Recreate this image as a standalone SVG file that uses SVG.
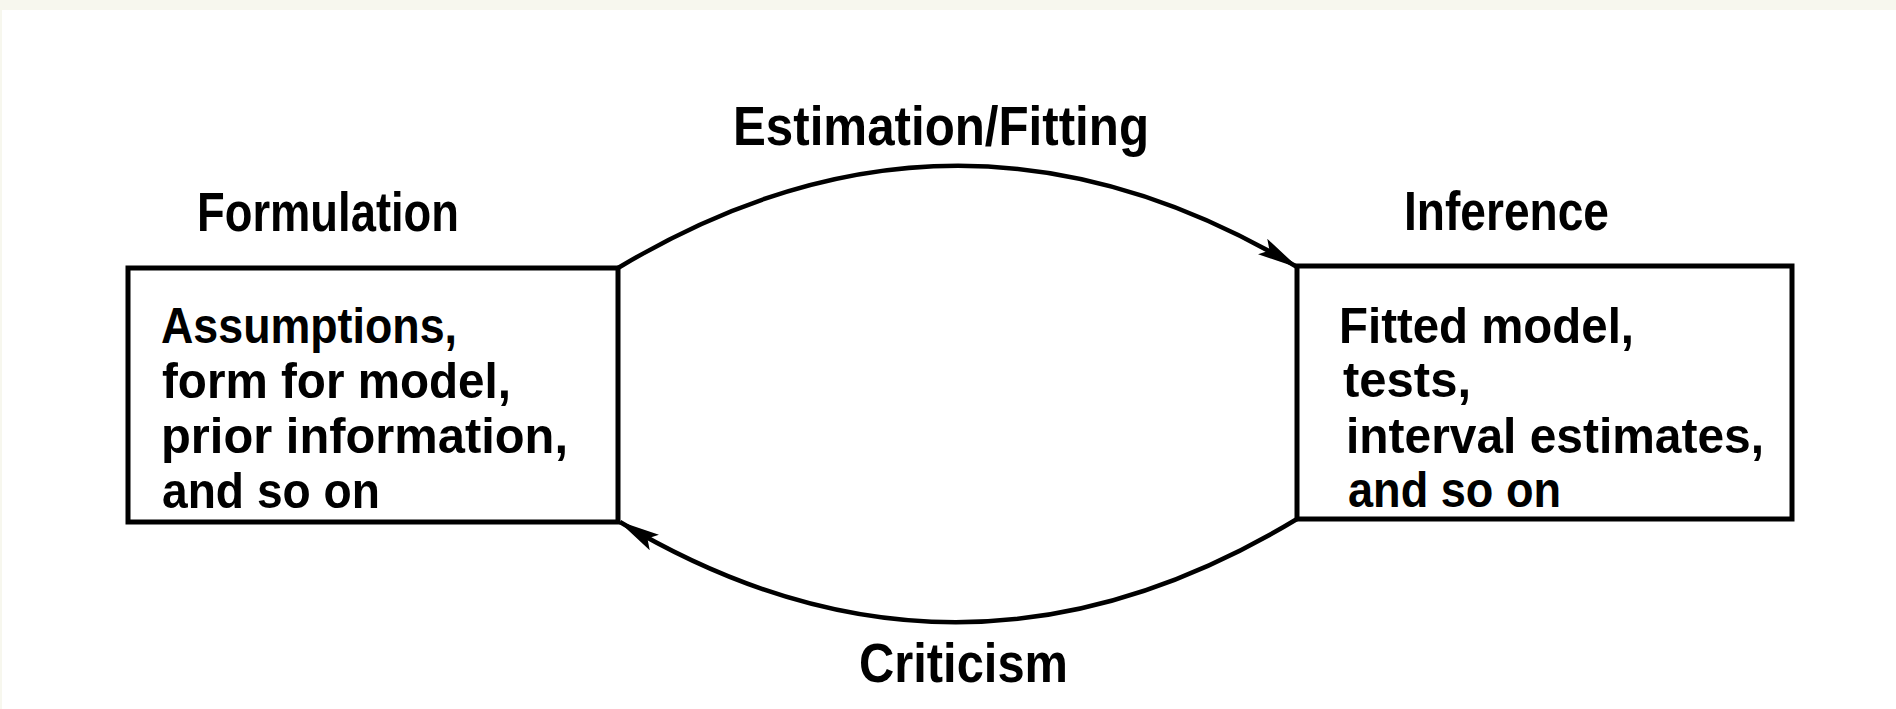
<svg xmlns="http://www.w3.org/2000/svg" width="1896" height="709" viewBox="0 0 1896 709">
  <style>
    .box { fill: #ffffff; stroke: #000000; stroke-width: 5; }
    .edge { fill: none; stroke: #000000; stroke-width: 4.5; }
    .t { font-family: "Liberation Sans", Arial, sans-serif; font-weight: bold; font-size: 56px; fill: #000000; }
    .b { font-family: "Liberation Sans", Arial, sans-serif; font-weight: bold; font-size: 50px; fill: #000000; }
  </style>
  <defs>
    <marker id="arrow" markerUnits="userSpaceOnUse" markerWidth="50" markerHeight="24" viewBox="-44 -12 50 24" refX="0" refY="0" orient="auto">
      <path d="M 2 0 L -40 -9 L -32 0 L -40 9 Z" fill="#000000"/>
    </marker>
  </defs>
  <rect x="0" y="0" width="1896" height="709" fill="#ffffff"/>
  <rect x="0" y="0" width="1896" height="10" fill="#f7f7ee"/>
  <rect x="0" y="0" width="2" height="709" fill="#f7f7ee"/>

  <g id="connectors">
    <g id="edge-estimation">
      <path class="edge" d="M 618 268 Q 957 64 1297 267" marker-end="url(#arrow)"/>
      <text class="t" x="733" y="145" textLength="416" lengthAdjust="spacingAndGlyphs">Estimation/Fitting</text>
    </g>
    <g id="edge-criticism">
      <path class="edge" d="M 1297 519 Q 958 724 620 522" marker-end="url(#arrow)"/>
      <text class="t" x="859" y="682" textLength="209" lengthAdjust="spacingAndGlyphs">Criticism</text>
    </g>
  </g>

  <g id="node-formulation">
    <text class="t" x="197" y="231" textLength="262" lengthAdjust="spacingAndGlyphs">Formulation</text>
    <rect class="box" x="128" y="268" width="490" height="254"/>
    <text class="b" x="161" y="343" textLength="296" lengthAdjust="spacingAndGlyphs">Assumptions,</text>
    <text class="b" x="162" y="398" textLength="349" lengthAdjust="spacingAndGlyphs">form for model,</text>
    <text class="b" x="161" y="453" textLength="407" lengthAdjust="spacingAndGlyphs">prior information,</text>
    <text class="b" x="162" y="508" textLength="218" lengthAdjust="spacingAndGlyphs">and so on</text>
  </g>

  <g id="node-inference">
    <text class="t" x="1404" y="230" textLength="205" lengthAdjust="spacingAndGlyphs">Inference</text>
    <rect class="box" x="1297" y="266" width="495" height="253"/>
    <text class="b" x="1339" y="343" textLength="295" lengthAdjust="spacingAndGlyphs">Fitted model,</text>
    <text class="b" x="1343" y="397" textLength="128" lengthAdjust="spacingAndGlyphs">tests,</text>
    <text class="b" x="1346" y="453" textLength="418" lengthAdjust="spacingAndGlyphs">interval estimates,</text>
    <text class="b" x="1348" y="507" textLength="213" lengthAdjust="spacingAndGlyphs">and so on</text>
  </g>
</svg>
